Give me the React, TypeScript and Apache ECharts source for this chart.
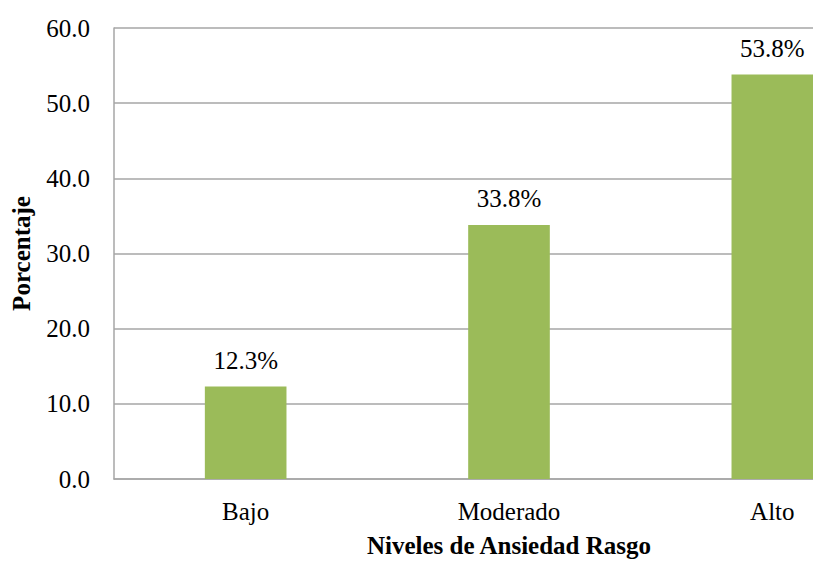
import React, { useEffect, useRef } from "react";
import * as echarts from "echarts";

const categories: string[] = ["Bajo", "Moderado", "Alto"];
const values: number[] = [12.3, 33.8, 53.8];
const yMin = 0;
const yMax = 60;
const yInterval = 10;

const FONT = "'Liberation Serif', 'Times New Roman', serif";
const FS = 25;

export default function App() {
  const ref = useRef<HTMLDivElement>(null);
  useEffect(() => {
    if (!ref.current) return;
    const chart = echarts.init(ref.current, undefined, { renderer: "svg" });
    chart.setOption({
      animation: false,
      backgroundColor: "#ffffff",
      grid: {
        left: 114,
        top: 28,
        width: 790,
        height: 451,
        containLabel: false,
        outerBoundsMode: "none",
      },
      xAxis: {
        type: "category",
        data: categories,
        name: "Niveles de Ansiedad Rasgo",
        nameLocation: "middle",
        nameGap: 54,
        nameTextStyle: { fontFamily: FONT, fontSize: FS, fontWeight: "bold", color: "#000" },
        axisLine: { show: true, lineStyle: { color: "#a6a6a6", width: 1.5 } },
        axisTick: { show: false },
        axisLabel: { fontFamily: FONT, fontSize: FS, color: "#000", margin: 20 },
        splitLine: { show: false },
      },
      yAxis: {
        type: "value",
        min: yMin,
        max: yMax,
        interval: yInterval,
        name: "Porcentaje",
        nameLocation: "middle",
        nameGap: 80,
        nameRotate: 90,
        nameTextStyle: { fontFamily: FONT, fontSize: FS, fontWeight: "bold", color: "#000" },
        axisLine: { show: true, lineStyle: { color: "#a6a6a6", width: 1.5 } },
        axisTick: { show: false },
        axisLabel: {
          fontFamily: FONT,
          fontSize: FS,
          color: "#000",
          margin: 24,
          formatter: (v: number) => v.toFixed(1),
        },
        splitLine: { show: true, lineStyle: { color: "#a6a6a6", width: 1.5 } },
      },
      series: [
        {
          type: "bar",
          data: values,
          barWidth: "31%",
          itemStyle: { color: "#9bbb59" },
          label: {
            show: true,
            position: "top",
            distance: 14,
            fontFamily: FONT,
            fontSize: FS,
            color: "#000",
            formatter: (p: any) => p.value.toFixed(1) + "%",
          },
        },
      ],
    });
    return () => chart.dispose();
  }, []);
  return (
    <div
      ref={ref}
      style={{ position: "fixed", left: 0, top: 0, width: 813, height: 561, background: "#fff" }}
    />
  );
}
